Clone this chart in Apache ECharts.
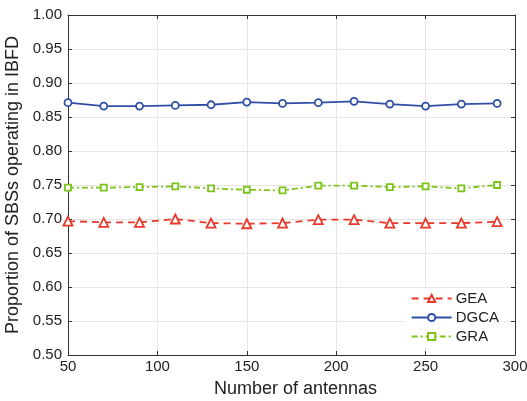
<!DOCTYPE html>
<html>
<head>
<meta charset="utf-8">
<script src="https://cdn.jsdelivr.net/npm/echarts@6/dist/echarts.min.js"></script>
<style>
  html, body { margin: 0; padding: 0; background: #fff; }
  #chart { width: 527px; height: 401px; }
</style>
</head>
<body>
<div id="chart"></div>
<script>
const antennas = [50, 70, 90, 110, 130, 150, 170, 190, 210, 230, 250, 270, 290];
const gea = [0.697, 0.695, 0.695, 0.700, 0.694, 0.693, 0.694, 0.699, 0.699, 0.694, 0.694, 0.694, 0.696];
const dgca = [0.871, 0.866, 0.866, 0.867, 0.868, 0.872, 0.870, 0.871, 0.873, 0.869, 0.866, 0.869, 0.870];
const gra = [0.746, 0.746, 0.747, 0.748, 0.745, 0.743, 0.742, 0.749, 0.749, 0.747, 0.748, 0.745, 0.750];

const chart = echarts.init(document.getElementById("chart"));
const font = "Liberation Sans, Arial, sans-serif";
const axisColor = "#333";
const gridColor = "#e6e6e6";

function pairs(values) {
  return antennas.map((x, i) => [x, values[i]]);
}

chart.setOption({
  animation: false,
  backgroundColor: "#fff",
  grid: { left: 68, right: 12, top: 15, bottom: 46, show: false, outerBoundsMode: "none" },
  legend: {
    right: 24,
    top: 288,
    orient: "vertical",
    itemWidth: 40,
    itemHeight: 9,
    itemGap: 4,
    padding: [3, 4, 3, 6],
    backgroundColor: "#fff",
    textStyle: { fontFamily: font, fontSize: 15, color: "#222", padding: [0, 0, 0, -1] },
    data: ["GEA", "DGCA", "GRA"],
  },
  xAxis: [
    {
      type: "value",
      min: 50,
      max: 300,
      interval: 50,
      name: "Number of antennas",
      nameLocation: "middle",
      nameGap: 25,
      nameTextStyle: { fontFamily: font, fontSize: 18, color: "#222", padding: [0, 0, 0, 8] },
      axisLine: { lineStyle: { color: axisColor, width: 1 } },
      axisTick: { inside: true, length: 4, lineStyle: { color: axisColor } },
      axisLabel: { fontFamily: font, fontSize: 15, color: "#222", margin: 4 },
      splitLine: { show: true, lineStyle: { color: gridColor, width: 1 } },
    },
    {
      type: "value",
      position: "top",
      min: 50,
      max: 300,
      interval: 50,
      axisLine: { show: true, onZero: false, lineStyle: { color: axisColor, width: 1 } },
      axisTick: { inside: true, length: 4, lineStyle: { color: axisColor } },
      axisLabel: { show: false },
      splitLine: { show: false },
    },
  ],
  yAxis: [
    {
      type: "value",
      min: 0.5,
      max: 1.0,
      interval: 0.05,
      name: "Proportion of SBSs operating in IBFD",
      nameLocation: "middle",
      nameGap: 33,
      nameTextStyle: { fontFamily: font, fontSize: 18, color: "#222" },
      axisLine: { show: true, lineStyle: { color: axisColor, width: 1 } },
      axisTick: { inside: true, length: 4, lineStyle: { color: axisColor } },
      axisLabel: {
        fontFamily: font,
        fontSize: 15,
        color: "#222",
        margin: 6,
        formatter: (v) => v.toFixed(2),
      },
      splitLine: { show: true, lineStyle: { color: gridColor, width: 1 } },
    },
    {
      type: "value",
      position: "right",
      min: 0.5,
      max: 1.0,
      interval: 0.05,
      axisLine: { show: true, onZero: false, lineStyle: { color: axisColor, width: 1 } },
      axisTick: { inside: true, length: 4, lineStyle: { color: axisColor } },
      axisLabel: { show: false },
      splitLine: { show: false },
    },
  ],
  series: [
    {
      name: "GEA",
      type: "line",
      data: pairs(gea),
      symbol: "triangle",
      symbolSize: 9,
      color: "#e8392a",
      itemStyle: { color: "#fff", borderColor: "#e8392a", borderWidth: 1.8 },
      lineStyle: { color: "#e8392a", width: 1.8, type: [7, 5] },
      z: 3,
    },
    {
      name: "DGCA",
      type: "line",
      data: pairs(dgca),
      symbol: "circle",
      symbolSize: 7,
      color: "#2f4fa6",
      itemStyle: { color: "#fff", borderColor: "#2f4fa6", borderWidth: 1.8 },
      lineStyle: { color: "#2f4fa6", width: 1.8 },
      z: 3,
    },
    {
      name: "GRA",
      type: "line",
      data: pairs(gra),
      symbol: "rect",
      symbolSize: 6,
      color: "#7cc31a",
      itemStyle: { color: "#fff", borderColor: "#7cc31a", borderWidth: 1.8 },
      lineStyle: { color: "#7cc31a", width: 1.8, type: [6, 3, 2, 3] },
      z: 3,
    },
  ],
});
</script>
</body>
</html>
